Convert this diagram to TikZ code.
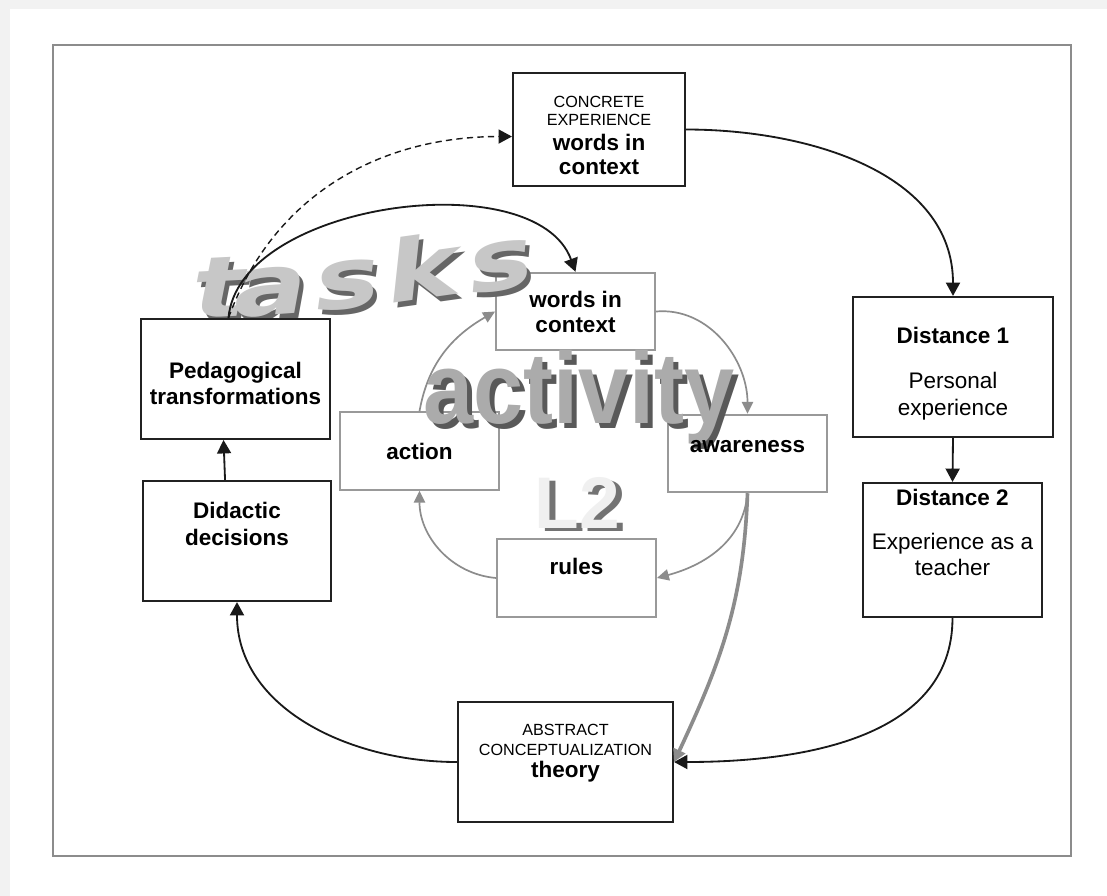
\documentclass[tikz,border=0pt]{standalone}
\usepackage{fontspec}
\setmainfont{Liberation Sans}
\newfontfamily\artfont{DejaVu Sans}
\usetikzlibrary{arrows.meta,positioning}
\newcommand{\captxt}{\fontsize{11.5}{13}\selectfont}
\newcommand{\wide}[1]{\scalebox{1.3}[1]{#1}}
\tikzset{
  frame/.style={draw=black!45, line width=1.6pt},
  blkbox/.style={draw=black!87, line width=1.5pt, fill=white, inner sep=0pt},
  grybox/.style={draw=black!40, line width=1.3pt, fill=white, inner sep=0pt,
    minimum width=3.975cm, minimum height=1.94cm, align=center,
    font=\fontsize{16}{19}\selectfont\bfseries},
  boxtxt/.style={align=center, inner sep=0pt, font=\fontsize{16}{19}\selectfont},
  flow/.style={draw=black!90, line width=1.3pt, -{Triangle[length=9.5pt,width=10pt]}},
  cyc/.style={draw=black!45, line width=1.2pt, -{Triangle[length=8.5pt,width=8pt]}},
  thickarr/.style={draw=black!45, line width=2.6pt, -{Triangle[length=9pt,width=9pt]}},
  tasksltr/.style={font=\artfont\fontsize{60}{60}\selectfont\bfseries\itshape, inner sep=0pt, anchor=base},
  actltr/.style={font=\fontsize{72}{72}\selectfont\bfseries, inner sep=0pt, anchor=base},
  lltr/.style={font=\fontsize{52}{52}\selectfont\bfseries, inner sep=0pt, anchor=base}
}
\begin{document}
\begin{tikzpicture}[x=0.025cm, y=0.025cm]
  \useasboundingbox (0,0) rectangle (1107,-896);
  % page background and frame
  \fill[black!5] (0,0) rectangle (1107,-896);
  \fill[white] (10,-9) rectangle (1107,-896);
  \draw[frame] (53,-45) rectangle (1071,-856);

  % inner cycle (grey)
  \node[grybox] (words) at (575.5,-311.5) {words in\\[-1.2pt]context};
  \node[grybox] (action) at (419.5,-451) {action};
  \node[grybox] (aware) at (747.5,-453.5) {};
  \node[grybox] (rules) at (576.5,-578) {rules\\[-3pt]\phantom{x}};

  \draw[cyc] (action.north) to[out=80, in=210] (words.west);
  \draw[cyc] (words.east) to[out=5, in=90] (aware.north);
  \draw[cyc] (aware.south) to[out=-95, in=15] (rules.east);
  \draw[cyc] (rules.west) to[out=175, in=-90] (action.south);

  % word art
  \foreach \ch/\x/\y/\r [count=\i] in {t/221/317/3,a/272/315/4,s/350/308/6,k/427/298/8,s/505/289/9}{
    \node[tasksltr, text=black!60, rotate=\r] (tshd\i) at (\x+4,-\y-5) {\wide{\ch}};
    \node[tasksltr, text=black!22, rotate=\r] (tltr\i) at (\x,-\y) {\wide{\ch}};
  }
  \node[actltr, text=black!65] (actshd) at (584,-428) {\scalebox{0.89}[1]{activity}};
  \node[actltr, text=black!33] (act) at (579,-423) {\scalebox{0.89}[1]{activity}};
  \node[lltr, text=black!55] (lshd) at (583,-531) {L2};
  \node[lltr, text=black!6] (ltwo) at (577,-528) {L2};
  \node[font=\fontsize{16}{19}\selectfont\bfseries, inner sep=0pt] (awaretxt) at (747.5,-447) {awareness};

  % outer cycle
  \node[blkbox, minimum width=4.3cm, minimum height=2.825cm] (ce) at (599,-129.5) {};
  \node[boxtxt, below=17pt of ce.north] (cetxt)
    {\captxt CONCRETE\\[-6pt]\captxt EXPERIENCE\\[-1.5pt]\textbf{words in}\\[-2pt]\textbf{context}};
  \node[blkbox, minimum width=5cm, minimum height=3.5cm] (d1) at (953,-367) {};
  \node[boxtxt, below=22pt of d1.north] (d1txt) {\textbf{Distance 1}\\[13pt]Personal\\experience};
  \node[blkbox, minimum width=4.475cm, minimum height=3.35cm] (d2) at (952.5,-550) {};
  \node[boxtxt, below=5pt of d2.north] (d2txt) {\textbf{Distance 2}\\[12pt]Experience as a\\teacher};
  \node[blkbox, minimum width=5.375cm, minimum height=3cm] (theory) at (565.5,-762) {};
  \node[boxtxt, below=16.4pt of theory.north] (theorytxt)
    {\captxt ABSTRACT\\[-5pt]\captxt CONCEPTUALIZATION\\[-3.4pt]\textbf{theory}};
  \node[blkbox, minimum width=4.7cm, minimum height=3cm] (did) at (237,-541) {};
  \node[boxtxt, below=15.6pt of did.north] (didtxt) {\textbf{Didactic}\\\textbf{decisions}};
  \node[blkbox, minimum width=4.725cm, minimum height=3cm] (ped) at (235.5,-379) {};
  \node[boxtxt, below=31.3pt of ped.north] (pedtxt) {\textbf{Pedagogical}\\[-0.5pt]\textbf{transformations}};

  \coordinate (pedtop) at ([xshift=-5pt]ped.north);
  \draw[flow] (ce.east) to[out=0, in=90] (d1.north);
  \draw[flow] (d1.south) -- (d2.north);
  \draw[flow] (d2.south) to[out=-90, in=0] (theory.east);
  \draw[flow] (theory.west) to[out=180, in=-90] (did.south);
  \draw[flow] ([xshift=-8.5pt]did.north) -- ([xshift=-8.5pt]ped.south);
  \draw[flow] (pedtop) to[out=85, in=110, looseness=0.85] (words.north);
  \draw[flow, line width=1pt, dash pattern=on 4.5pt off 3pt] (pedtop) to[out=70, in=180] ([yshift=-5pt]ce.west);
  \draw[thickarr] (aware.south) to[out=-92, in=65] (theory.east);
\end{tikzpicture}
\end{document}
